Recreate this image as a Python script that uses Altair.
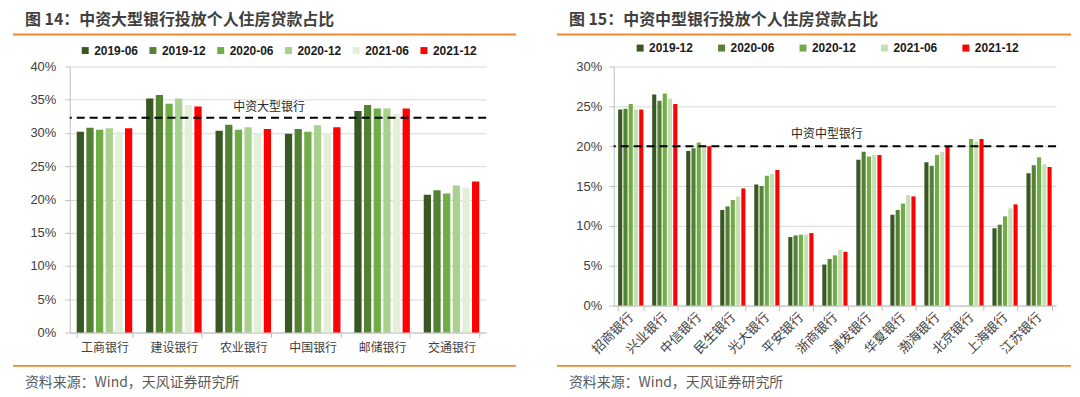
import altair as alt
import pandas as pd

# ---------------- data: left panel (large banks) ----------------
banks_large = ["工商银行", "建设银行", "农业银行", "中国银行", "邮储银行", "交通银行"]
periods_large = ["2019-06", "2019-12", "2020-06", "2020-12", "2021-06", "2021-12"]
colors_large = ["#385723", "#548235", "#70AD47", "#A9D18E", "#E2F0D9", "#FF0000"]
large_2019_06 = [30.2, 35.2, 30.35, 29.9, 33.3, 20.7]
large_2019_12 = [30.8, 35.7, 31.25, 30.6, 34.2, 21.4]
large_2020_06 = [30.5, 34.4, 30.5, 30.2, 33.7, 20.9]
large_2020_12 = [30.7, 35.2, 30.85, 31.15, 33.7, 22.1]
large_2021_06 = [30.2, 34.2, 30.0, 30.0, 32.9, 21.8]
large_2021_12 = [30.7, 34.0, 30.6, 30.85, 33.7, 22.7]
avg_large = [32.3]
avg_label_large = ["中资大型银行"]
ticks_large = [0, 5, 10, 15, 20, 25, 30, 35, 40]
title_large = "图 14：中资大型银行投放个人住房贷款占比"

# ---------------- data: right panel (mid-sized banks) ----------------
banks_mid = ["招商银行", "兴业银行", "中信银行", "民生银行", "光大银行", "平安银行", "浙商银行",
             "浦发银行", "华夏银行", "渤海银行", "北京银行", "上海银行", "江苏银行"]
periods_mid = ["2019-12", "2020-06", "2020-12", "2021-06", "2021-12"]
colors_mid = ["#385723", "#548235", "#70AD47", "#C5E0B4", "#FF0000"]
mid_2019_12 = [24.6, 26.5, 19.4, 12.0, 15.2, 8.6, 5.15, 18.3, 11.4, 18.0, None, 9.7, 16.6]
mid_2020_06 = [24.7, 25.7, 19.75, 12.45, 15.0, 8.8, 5.85, 19.3, 12.0, 17.55, None, 10.15, 17.6]
mid_2020_12 = [25.3, 26.6, 20.45, 13.25, 16.3, 8.9, 6.3, 18.7, 12.8, 18.9, 20.9, 11.2, 18.6]
mid_2021_06 = [24.6, 26.0, 20.0, 13.7, 16.5, 8.9, 7.0, 18.9, 13.85, 19.3, 20.6, 12.2, 17.75]
mid_2021_12 = [24.6, 25.3, 20.0, 14.7, 17.0, 9.1, 6.75, 18.9, 13.7, 20.0, 20.9, 12.7, 17.4]
avg_mid = [20.0]
avg_label_mid = ["中资中型银行"]
ticks_mid = [0, 5, 10, 15, 20, 25, 30]
title_mid = "图 15：中资中型银行投放个人住房贷款占比"

source_note = ["资料来源：Wind，天风证券研究所"]

CJK = "Noto Sans CJK SC"
LAT = "Liberation Sans"
ORANGE = "#F28A2E"


def long_df(banks, periods, series):
    rows = []
    for p, vals in zip(periods, series):
        for b, v in zip(banks, vals):
            if v is not None:
                rows.append({"bank": b, "period": p, "value": v})
    return pd.DataFrame(rows)


def panel(df, banks, periods, colors, avg, avg_label, ticks, ymax, title,
          W, H, pad_in, pad_out, off_pad, xaxis, ylab_pad,
          legend_x, legend_y, col_pad, avg_x, avg_dy, right_ext):
    bars = alt.Chart(df).mark_bar().encode(
        x=alt.X("bank:N", sort=banks, title=None,
                scale=alt.Scale(paddingInner=pad_in, paddingOuter=pad_out),
                axis=xaxis),
        xOffset=alt.XOffset("period:N", sort=periods,
                            scale=alt.Scale(paddingInner=off_pad, paddingOuter=0)),
        y=alt.Y("value:Q", title=None,
                scale=alt.Scale(domain=[0, ymax], nice=False),
                axis=alt.Axis(values=ticks, labelExpr="datum.value + '%'",
                              labelOverlap=False, tickCount=len(ticks),
                              labelFont=LAT, labelFontSize=13, labelColor="#404040",
                              labelPadding=ylab_pad, tickSize=5, tickColor="#BFBFBF",
                              domainColor="#BFBFBF", gridColor="#D9D9D9", grid=True)),
        color=alt.Color("period:N", sort=periods,
                        scale=alt.Scale(domain=periods, range=colors),
                        legend=alt.Legend(title=None, orient="none", legendX=legend_x,
                                          legendY=legend_y, direction="horizontal",
                                          columns=len(periods), symbolType="square",
                                          symbolSize=49, symbolStrokeWidth=0,
                                          labelFont=LAT, labelFontSize=12,
                                          labelFontWeight="bold", labelColor="#1A1A1A",
                                          labelOffset=3, columnPadding=col_pad, padding=0)),
    )
    avg_df = pd.DataFrame({"value": avg, "t": avg_label})
    rule = alt.Chart(avg_df).mark_rule(color="black", strokeWidth=2,
                                       strokeDash=[8, 5]).encode(y=alt.Y("value:Q", title=None))
    rule_text = alt.Chart(avg_df).mark_text(dy=avg_dy, fontSize=12, font=CJK,
                                            color="#262626").encode(
        x=alt.value(avg_x), y=alt.Y("value:Q", title=None), text="t:N")
    one = pd.DataFrame({"t": source_note})
    top_line = alt.Chart(one).mark_rule(color=ORANGE, strokeWidth=2).encode(
        x=alt.value(-57), x2=alt.value(W + right_ext), y=alt.value(-32))
    bottom_line = alt.Chart(one).mark_rule(color=ORANGE, strokeWidth=2).encode(
        x=alt.value(-57), x2=alt.value(W + right_ext), y=alt.value(300.5))
    src = alt.Chart(one).mark_text(align="left", baseline="middle", fontSize=14,
                                   font=CJK, color="#595959").encode(
        x=alt.value(-45), y=alt.value(318), text="t:N")
    return alt.layer(bars, rule, rule_text, top_line, bottom_line, src).properties(
        width=W, height=H,
        title=alt.TitleParams(text=title, anchor="start", frame="group", dx=-45,
                              offset=6, font=CJK, fontSize=16, fontWeight="bold",
                              color="#404040"))


df_large = long_df(banks_large, periods_large,
                   [large_2019_06, large_2019_12, large_2020_06,
                    large_2020_12, large_2021_06, large_2021_12])
df_mid = long_df(banks_mid, periods_mid,
                 [mid_2019_12, mid_2020_06, mid_2020_12, mid_2021_06, mid_2021_12])

xaxis_large = alt.Axis(labelAngle=0, labelFont=CJK, labelFontSize=12, labelColor="#404040",
                       labelPadding=5, tickBand="extent", tickSize=5, tickColor="#BFBFBF",
                       domainColor="#BFBFBF", grid=False)
xaxis_mid = alt.Axis(labelAngle=-45, labelAlign="right", labelBaseline="middle",
                     labelFont=CJK, labelFontSize=13, labelColor="#404040",
                     labelPadding=4, tickBand="extent", tickSize=5, tickColor="#BFBFBF",
                     domainColor="#BFBFBF", grid=False)

left = panel(df_large, banks_large, periods_large, colors_large, avg_large, avg_label_large,
             ticks_large, 40, title_large, W=418, H=267, pad_in=0.2, pad_out=0.1,
             off_pad=0.25, xaxis=xaxis_large, ylab_pad=9,
             legend_x=9.5, legend_y=-22, col_pad=8, avg_x=200, avg_dy=-11, right_ext=30)
right = panel(df_mid, banks_mid, periods_mid, colors_mid, avg_mid, avg_label_mid,
              ticks_mid, 30, title_mid, W=444, H=240, pad_in=0.26, pad_out=0.13,
              off_pad=0.22, xaxis=xaxis_mid, ylab_pad=7,
              legend_x=20.5, legend_y=-24.5, col_pad=21.75, avg_x=214, avg_dy=-12, right_ext=15)

chart = alt.hconcat(left, right, spacing=39).resolve_scale(
    color="independent", x="independent", y="independent", xOffset="independent"
).resolve_legend(color="independent").properties(
    padding={"left": 4, "top": 3, "right": 0, "bottom": 0}
).configure_view(stroke=None)

chart.save("out.html", embed_options={"renderer": "svg", "actions": False})
